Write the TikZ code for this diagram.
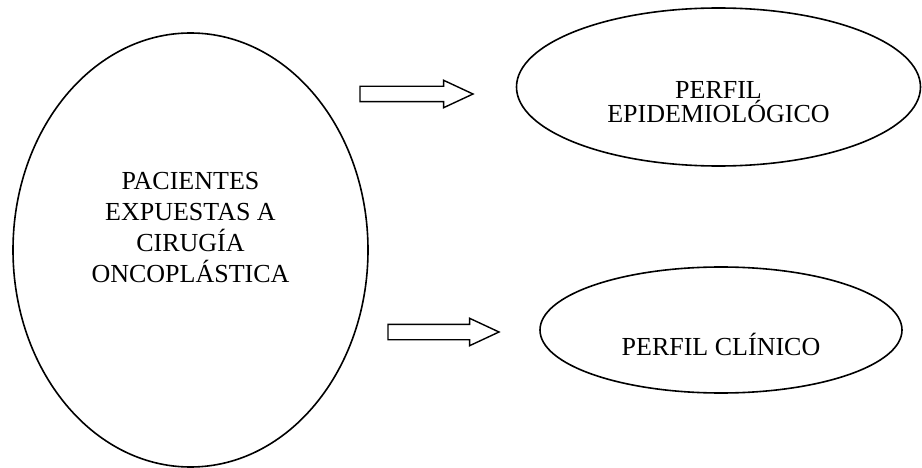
\documentclass[tikz,border=0pt]{standalone}
\usepackage{fontspec}
\setmainfont{Liberation Serif}
\usetikzlibrary{shapes.geometric,shapes.arrows,positioning}
\tikzset{
  oval/.style={draw, ellipse, line width=1.6pt, inner sep=0, outer sep=0},
  oval-text/.style={align=center, inner sep=0, label distance=0,
    font=\fontsize{26}{#1}\selectfont},
  oval-text/.default=31,
  flow-arrow/.style={single arrow, draw, line width=1.4pt, inner xsep=0, inner ysep=7pt,
    minimum width=26pt, single arrow head extend=6pt, single arrow tip angle=50,
    outer sep=0, anchor=tail, minimum height=#1}
}

\begin{document}
\begin{tikzpicture}[x=1pt, y=-1pt]
  \useasboundingbox (0,0) rectangle (922,468);
  % patients
  \node[oval, minimum width=355pt, minimum height=434pt,
    label={[oval-text, yshift=22pt]center:PACIENTES\\EXPUESTAS A\\CIRUGÍA\\ONCOPLÁSTICA}] (pacientes) at (190.5,250) {};
  % profiles
  \node[oval, minimum width=404pt, minimum height=158pt,
    label={[oval-text=24, yshift=-15.5pt]center:PERFIL\\EPIDEMIOLÓGICO}] (epidem) at (718.5,87) {};
  \node[oval, minimum width=362pt, minimum height=126pt,
    label={[oval-text, yshift=-14pt]center:PERFIL CLÍNICO}] (clinico) at (721,330) {};
  % arrows
  \node[flow-arrow=113pt] (to-epidem) at (360,94) {};
  \node[flow-arrow=111pt] (to-clinico) at (388,332) {};
\end{tikzpicture}
\end{document}
